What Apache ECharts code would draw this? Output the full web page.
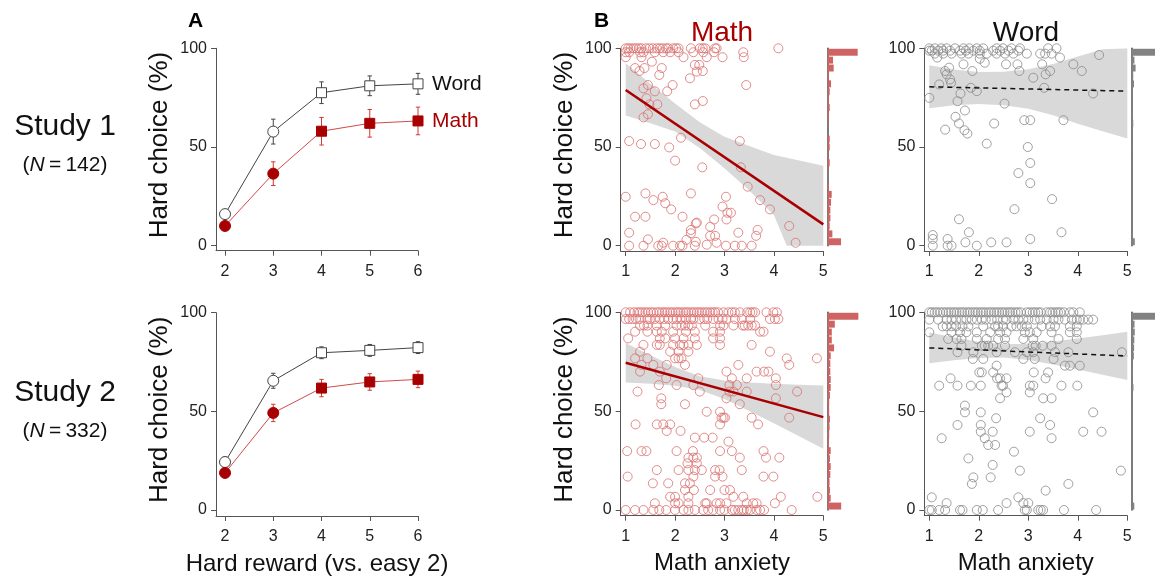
<!DOCTYPE html>
<html><head><meta charset="utf-8">
<script src="https://cdn.jsdelivr.net/npm/echarts@6/dist/echarts.min.js"></script>
<style>html,body{margin:0;padding:0;background:#fff}#c{width:1155px;height:578px}</style>
</head><body><div id="c"></div>
<script>
// ---------- Panel A data ----------
const rewards = [2, 3, 4, 5, 6];
const rewardShapes = ['circle', 'circle', 'rect', 'rect', 'rect'];
const s1Word = [16, 57.8, 77.5, 81, 82];
const s1WordErr = [1.5, 6.3, 5.5, 5, 5.3];
const s1Math = [10, 36.5, 58, 62, 63.2];
const s1MathErr = [1.5, 6, 7, 7, 7];
const s2Word = [24.3, 65.5, 79.7, 80.9, 82.3];
const s2WordErr = [2.5, 3.8, 3, 3, 3];
const s2Math = [18.8, 49.2, 61.8, 64.9, 66.2];
const s2MathErr = [2, 4.4, 4.4, 4.2, 4.2];
const rewardTicks = [2, 3, 4, 5, 6];
const pctTicks = [0, 50, 100];
const anxTicks = [1, 2, 3, 4, 5];

// ---------- Panel B data (rows: [hard choice %, [math anxiety values]]) ----------
const mathS1Rows = [
 [100,[1.00,1.05,1.10,1.16,1.21,1.27,1.32,1.41,1.48,1.55,1.63,1.69,1.75,1.82,1.86,1.96,2.02,2.07,2.32,2.50,2.56,2.61,2.81,2.84,4.09]],
 [98,[1.00,1.07,1.29,1.36,1.59,1.76,1.90,2.07,2.37,2.57,2.79,3.38]],
 [95.5,[1.00,1.32,2.17,2.64,2.96,3.39]],
 [93.2,[1.53]],[90,[1.19,1.38,1.73]],[88.5,[1.28,2.56]],[86.5,[1.68]],[84.8,[2.30]],[91.6,[2.40,2.49]],[88.2,[2.44]],
 [81.4,[3.44,1.45,1.95]],[79.7,[1.36]],[78.2,[1.59,1.84]],[74.7,[1.42]],[71.6,[1.48,1.64,2.40]],[73.3,[2.56]],[65,[1.36]],[66.6,[1.45]],
 [53,[1.07,3.31]],[51.5,[1.31,1.59]],[49.8,[1.88]],[54.7,[2.12]],[43.1,[2.00]],[39.7,[2.55,3.33]],[29.9,[3.47]],[23.1,[3.72,1.56]],
 [18.4,[3.92,1.92]],[10,[4.31]],[1.5,[4.44,1.76,2.84]],[24.8,[1.00,1.75,3.03]],[26.5,[1.40,2.32]],[21.5,[1.80]],[14.7,[2.15,1.19,1.40]],
 [11.7,[2.44]],[6.6,[1.07,3.28]],[3.2,[1.45]],[19.8,[2.96]],[16.7,[3.06,3.13]],[13.3,[3.04,2.79]],[9.6,[2.71]],[8,[2.32,3.67]],[6.3,[2.32]],
 [11.3,[2.42]],[5,[2.71,2.81,3.64]],[0,[1.07,1.36,1.66,1.73,1.96,2.10,2.15,2.40,3.03,3.21,3.35,3.55]],[3,[2.23]],[2,[2.42]],[0.5,[2.64]]
];
const wordS1Rows = [
 [100,[1.00,1.11,1.24,1.35,1.52,1.69,1.81,1.96,2.09,2.36,2.49,2.66,2.83,3.40,3.57]],
 [98.8,[1.00,1.05,1.18,1.28,1.42,1.62,1.74,1.89,2.02,2.29,2.43,2.60,2.80]],
 [97.3,[1.11,1.28,1.45,1.65,1.79,2.02,2.16,2.36,2.53,2.70,2.97,3.24,3.34,3.47]],
 [95.3,[1.16,3.64]],[94.7,[2.02]],[92.7,[2.12]],[91.9,[1.69,2.55,2.78,3.91,3.28]],[88.5,[4.08,3.44,2.82,1.87,1.32]],[96.6,[4.43]],
 [86.8,[3.35,1.35]],[85.1,[3.10]],[90.2,[1.40]],[84.2,[1.42]],[82.5,[1.44]],[81.7,[1.20]],[80,[1.84,3.32]],[78.3,[1.96]],[77.1,[1.63,4.31]],
 [73.2,[1.57]],[74.9,[1.00]],[72,[2.52]],[68.5,[1.72]],[65.3,[1.53]],[61.9,[1.60,2.31]],[58.8,[1.32]],[58.5,[1.71]],[56.8,[1.77]],
 [51.7,[2.16]],[63.6,[2.92,3.04,3.71]],[50,[2.99]],[41.9,[3.04]],[31.7,[3.04]],[36.8,[2.80]],[18.5,[2.72]],[23.6,[3.48]],[13.4,[1.60]],
 [6.8,[1.80,3.67]],[5.4,[1.07]],[3.4,[1.07,1.37,3.04]],[0,[1.07,1.37,1.45,1.96]],[1.7,[1.73,2.25,2.56]]
];
const mathS2Rows = [
 [100,[1.00,1.09,1.17,1.24,1.29,1.34,1.40,1.45,1.51,1.56,1.63,1.68,1.74,1.79,1.84,1.90,1.95,2.01,2.06,2.11,2.17,2.22,2.27,2.33,2.38,2.44,2.49,2.54,2.60,2.65,2.71,2.76,2.81,2.87,2.98,3.08,3.15,3.21,3.31,3.46,3.52,3.57,3.62,3.85,3.99,4.06]],
 [96.6,[1.00,1.07,1.14,1.21,1.28,1.44,1.49,1.59,1.69,1.78,1.86,1.96,2.03,2.11,2.22,2.32,2.37,2.50,2.59,2.65,2.77,2.88,2.96,3.04,3.21,3.35,3.52,3.92,4.02,4.09]],
 [93.3,[1.29,1.37,1.44,1.63,1.80,2.03,2.13,2.20,2.27,2.34,2.61,2.91,2.98,3.18,3.37,3.41,3.48,3.55,3.62]],
 [90.2,[1.19,1.44,1.63,1.73,1.96,2.22,2.40,2.77,2.91,3.72,3.79]],
 [86.8,[1.05,1.69,1.80,2.00,2.17,2.40,2.77,2.91]],
 [83.5,[1.36,1.63,1.69,1.96,2.10,2.17,2.27,2.44,2.91,3.55]],
 [80.1,[1.29,1.90,2.07,2.27,3.92]],
 [76.7,[1.19,1.44,2.00,2.07,2.13,4.26,4.87]],
 [73.4,[1.32,1.56,1.83,2.20,3.28,4.31]],
 [70.0,[1.29,1.69,3.04,3.65,3.80,3.89]],
 [66.6,[1.82,2.47,3.15,3.45,4.04]],
 [63.2,[1.67,2.03,2.37,3.10,3.25,4.04]],
 [59.9,[1.24,2.50,3.10,3.18,3.45,4.47]],
 [56.5,[1.72,3.04,4.04]],
 [53.5,[1.72,2.20,3.31]],
 [49.7,[2.64,2.91]],
 [46.7,[2.94,2.98,3.01,3.55,4.31]],
 [43.3,[1.20,1.63,1.76,1.90,2.91,3.68]],
 [40.0,[1.83,2.11]],
 [36.6,[2.40,2.59,2.76]],
 [34.6,[3.08]],
 [29.8,[1.03,1.32,1.42,2.03,2.36,2.91,3.15,3.79]],
 [26.5,[2.27,2.37,2.44,3.31,3.84,4.11]],
 [23.6,[2.25,2.44]],
 [20.2,[1.63,2.07,2.27,2.40,2.54,2.81,2.90,3.35]],
 [16.9,[1.04,2.37,2.81,2.96,3.79,3.99]],
 [13.5,[1.55,1.86,2.20,2.30]],
 [10.1,[2.20,2.38,2.71,3.00,3.11]],
 [6.7,[1.90,2.00,2.27,3.18,3.38,4.14,4.88]],
 [3.4,[1.59,2.00,2.07,2.27,2.61,2.64,2.84,2.91,3.04,3.45,3.58,3.65,4.02]],
 [0,[1.00,1.19,1.36,1.56,1.68,1.82,2.00,2.17,2.27,2.40,2.57,2.67,2.77,2.91,3.00,3.15,3.21,3.28,3.35,3.39,3.45,3.52,3.65,3.72,3.80,4.36]]
];
const wordS2Rows = [
 [100,[1.00,1.05,1.11,1.16,1.22,1.28,1.34,1.39,1.44,1.50,1.55,1.61,1.66,1.71,1.77,1.82,1.88,1.93,1.98,2.04,2.09,2.14,2.20,2.25,2.31,2.36,2.41,2.47,2.52,2.58,2.63,2.68,2.74,2.79,2.85,2.97,3.03,3.09,3.14,3.20,3.25,3.37,3.44,3.49,3.55,3.60,3.65,3.72,3.84,3.91,4.04]],
 [96.3,[1.00,1.18,1.35,1.45,1.54,1.65,1.75,1.86,1.96,2.06,2.14,2.26,2.37,2.49,2.56,2.70,2.80,2.90,3.00,3.13,3.24,3.37,3.51,3.61,3.74,3.88,3.98,4.04,4.11,4.21,4.31]],
 [92.9,[1.27,1.35,1.45,1.54,1.67,1.79,2.09,2.33,2.39,2.49,2.66,2.76,2.87,2.97,3.27,3.44,3.54,3.84,3.98]],
 [89.9,[1.00,1.45,1.62,1.75,1.96,2.23,2.43,2.56,2.93,3.03,3.17,3.47,3.84,3.98]],
 [86.5,[1.38,1.55,1.65,1.96,2.16,2.39,2.53,2.90,3.10,3.61,3.98]],
 [83.1,[1.65,2.06,2.12,2.19,2.29,2.53,3.09,3.15,3.29,3.47]],
 [79.8,[1.57,1.89,2.36,2.73,2.97,3.10,3.54,3.81,4.89]],
 [76.4,[1.88,2.09,2.90,3.13,3.51]],
 [73.0,[2.36,3.74,3.84,4.04]],
 [69.6,[2.01,2.06,2.29,3.11,3.40]],
 [66.6,[1.43,2.37,2.43,2.56,3.35]],
 [62.9,[1.20,1.57,1.84,2.04,2.46,2.49,3.03,3.10,3.67,3.99]],
 [59.5,[2.56,3.03]],
 [56.5,[2.43,3.30,3.47]],
 [52.8,[1.72]],
 [49.4,[1.72,2.04,4.31]],
 [46.4,[2.35,3.24]],
 [43.0,[1.57,2.04,3.44]],
 [39.6,[2.04,2.28,3.03,4.11,4.48]],
 [36.3,[1.25,2.12,3.47]],
 [32.9,[2.19,2.33]],
 [29.5,[2.71]],
 [26.1,[1.79]],
 [22.8,[2.28]],
 [19.9,[2.83,4.87]],
 [16.5,[1.89,2.24]],
 [13.2,[1.86,3.81]],
 [9.8,[3.35]],
 [6.4,[1.05,2.80]],
 [3.5,[1.35,2.56,2.90,3.00]],
 [0,[1.00,1.05,1.20,1.32,1.62,1.67,1.96,2.08,2.39,2.93,2.97,3.20,3.25,3.30,3.72,4.37]]
];

// regression lines (value at anxiety 1 and 5)
const regX = [1, 5];
const regMathS1 = [78.9, 10.8];
const regWordS1 = [80.5, 78.3];
const regMathS2 = [74.5, 47.0];
const regWordS2 = [82.0, 77.9];

// confidence bands
const bandX = [1, 1.5, 2, 2.5, 3, 3.5, 4, 4.5, 5];
const bandX1M = [1, 1.5, 2, 2.5, 3, 3.5, 4, 4.26, 5];
const bandMathS1Up = [92.4, 82, 72.1, 62.5, 55.2, 50.5, 46, 44.5, 40.5];
const bandMathS1Lo = [65.9, 62, 57.8, 49.5, 39.2, 28, 15.5, 0, 0];
const bandWordS1Up = [91.4, 89.2, 88.0, 88.1, 89.4, 92.1, 95.8, 99.5, 100];
const bandWordS1Lo = [69.6, 71.2, 71.8, 71.1, 69.4, 66.1, 61.8, 58.0, 54.3];
const bandMathS2Up = [84.5, 78.3, 72.3, 67.7, 65.5, 64.5, 63.9, 63.4, 63.0];
const bandMathS2Lo = [64.5, 63.9, 62.9, 60.7, 56.1, 50.1, 43.9, 37.4, 31.0];
const bandWordS2Up = [89.8, 87.3, 85.1, 83.9, 84.1, 85.2, 86.7, 88.4, 90.1];
const bandWordS2Lo = [74.2, 75.7, 76.9, 77.1, 75.9, 73.6, 71.1, 68.4, 65.7];

// marginal histograms: counts in 4% bins from 0-4 up to 96-100
const histBins = ['0','4','8','12','16','20','24','28','32','36','40','44','48','52','56','60','64','68','72','76','80','84','88','92','96'];
const histMathS1 = [20,7,3,4,4,5,6,2,0,1,3,1,3,3,0,1,2,3,2,3,5,2,9,8,45];
const histWordS1 = [8,3,0,1,1,1,1,1,1,1,2,0,2,1,2,4,3,2,2,3,6,4,10,7,76];
const histMathS2 = [36,8,6,5,7,8,6,8,3,4,5,6,4,4,6,8,8,7,7,8,17,11,11,19,82];
const histWordS2 = [12,2,1,2,2,1,1,2,2,3,4,3,5,2,3,8,5,6,5,10,11,12,14,13,140];

// ---------- styling ----------
const FONT = '"Liberation Sans", Arial, Helvetica, sans-serif';
const AX = '#555';
const DARKRED = '#a80000';
const LIGHTRED = '#d9706f';
const HISTRED = '#cf6262';
const BAND = '#d9d9d9';

const chart = echarts.init(document.getElementById('c'), null, {renderer: 'canvas'});

function rowsToPts(rows) {
  const out = [];
  rows.forEach(([y, xs]) => xs.forEach(x => out.push([x, y])));
  return out;
}

const grids = [
  {left: 216, top: 48.3, width: 202, height: 202.4},    // 0 A study1
  {left: 216, top: 312.7, width: 202, height: 203.3},   // 1 A study2
  {left: 620.7, top: 48.3, width: 202.6, height: 202.7},// 2 B1 math
  {left: 924.3, top: 48.3, width: 203, height: 202.7},  // 3 B1 word
  {left: 620.7, top: 312.3, width: 202.6, height: 203.4},// 4 B2 math
  {left: 924.3, top: 312.3, width: 203, height: 203.4}, // 5 B2 word
  {left: 827.7, top: 48.3, width: 40, height: 197.4},   // 6 hist
  {left: 1131.7, top: 48.3, width: 40, height: 197.4},  // 7
  {left: 827.7, top: 312.3, width: 40, height: 197.7},  // 8
  {left: 1131.7, top: 312.3, width: 40, height: 197.7}  // 9
];

function xVal(gi, min, max, ticks, name) {
  return {
    type: 'value', gridIndex: gi, min: min, max: max,
    axisLine: {show: true, onZero: false, lineStyle: {color: AX, width: 1}},
    axisTick: {show: true, length: 5, customValues: ticks, lineStyle: {color: AX, width: 1}},
    axisLabel: {customValues: ticks, margin: 13, fontSize: 16, color: '#222', fontFamily: FONT},
    splitLine: {show: false},
    name: name || '', nameLocation: 'middle', nameGap: 36,
    nameTextStyle: {fontSize: 24, color: '#111', fontFamily: FONT}
  };
}
function yVal(gi, min, name) {
  return {
    type: 'value', gridIndex: gi, min: min, max: 100,
    axisLine: {show: true, onZero: false, lineStyle: {color: AX, width: 1}},
    axisTick: {show: true, length: 5, customValues: pctTicks, lineStyle: {color: AX, width: 1}},
    axisLabel: {customValues: pctTicks, margin: 9, fontSize: 16, color: '#222', fontFamily: FONT},
    splitLine: {show: false},
    name: name || '', nameLocation: 'middle', nameGap: 43,
    nameTextStyle: {fontSize: 26, color: '#111', fontFamily: FONT, padding: [0, 0, 0, 9]}
  };
}
function xHist(gi, max) {
  return {type: 'value', gridIndex: gi, min: 0, max: max, show: false};
}
function yHist(gi) {
  return {type: 'category', gridIndex: gi, data: histBins,
    axisLine: {show: true, lineStyle: {color: '#5a5a5a', width: 1.6}},
    axisTick: {show: false}, axisLabel: {show: false}, splitLine: {show: false}};
}

const xAxes = [
  xVal(0, 1.813, 6, rewardTicks, ''),
  xVal(1, 1.813, 6, rewardTicks, 'Hard reward (vs. easy 2)'),
  xVal(2, 0.899, 5, anxTicks, ''),
  xVal(3, 0.899, 5, anxTicks, ''),
  xVal(4, 0.899, 5, anxTicks, 'Math anxiety'),
  xVal(5, 0.899, 5, anxTicks, 'Math anxiety'),
  xHist(6, 60), xHist(7, 60), xHist(8, 107), xHist(9, 107)
];
const yAxes = [
  yVal(0, -2.53, 'Hard choice (%)'),
  yVal(1, -3.04, 'Hard choice (%)'),
  yVal(2, -2.68, 'Hard choice (%)'),
  yVal(3, -2.68, ''),
  yVal(4, -2.88, 'Hard choice (%)'),
  yVal(5, -2.88, ''),
  yHist(6), yHist(7), yHist(8), yHist(9)
];

function errSeries(ai, vals, errs, color) {
  return {
    type: 'custom', xAxisIndex: ai, yAxisIndex: ai, z: 2, silent: true,
    data: rewards.map((x, i) => [x, vals[i] - errs[i], vals[i] + errs[i]]),
    encode: {x: 0, y: [1, 2]},
    renderItem: function (params, api) {
      const x = api.value(0);
      const lo = api.coord([x, api.value(1)]);
      const hi = api.coord([x, api.value(2)]);
      const c = 2.2;
      const st = {stroke: color, lineWidth: 1};
      return {type: 'group', children: [
        {type: 'line', shape: {x1: lo[0], y1: lo[1], x2: hi[0], y2: hi[1]}, style: st},
        {type: 'line', shape: {x1: hi[0] - c, y1: hi[1], x2: hi[0] + c, y2: hi[1]}, style: st},
        {type: 'line', shape: {x1: lo[0] - c, y1: lo[1], x2: lo[0] + c, y2: lo[1]}, style: st}
      ]};
    }
  };
}
function rewardLine(ai, name, vals, lineColor, fill, border, label) {
  return {
    type: 'line', name: name, xAxisIndex: ai, yAxisIndex: ai, z: 3,
    data: rewards.map((x, i) => ({value: [x, vals[i]], symbol: rewardShapes[i],
      symbolSize: rewardShapes[i] === 'circle' ? 11 : 10})),
    lineStyle: {color: lineColor, width: 1},
    itemStyle: {color: fill, borderColor: border, borderWidth: 1},
    endLabel: label ? {show: true, formatter: name, distance: 14, fontSize: 21, color: label, fontFamily: FONT} : {show: false}
  };
}
function bandSeries(ai, bx, lo, up) {
  return {
    type: 'custom', xAxisIndex: ai, yAxisIndex: ai, z: 1, silent: true, clip: true,
    data: bx.map((x, i) => [x, lo[i], up[i]]),
    encode: {x: 0, y: [1, 2]},
    renderItem: function (params, api) {
      if (params.dataIndex !== 0) return;
      const pts = [];
      for (let i = 0; i < bx.length; i++) pts.push(api.coord([bx[i], up[i]]));
      for (let i = bx.length - 1; i >= 0; i--) pts.push(api.coord([bx[i], lo[i]]));
      return {type: 'polygon', shape: {points: pts}, style: {fill: BAND}};
    }
  };
}
function scatterSeries(ai, rows, color) {
  return {
    type: 'scatter', xAxisIndex: ai, yAxisIndex: ai, z: 2, clip: false, silent: true,
    data: rowsToPts(rows), symbol: 'circle', symbolSize: 9,
    itemStyle: {color: 'rgba(255,255,255,0)', borderColor: color, borderWidth: 1}
  };
}
function regSeries(ai, vals, color, width, type) {
  return {
    type: 'line', xAxisIndex: ai, yAxisIndex: ai, z: 4, silent: true,
    data: regX.map((x, i) => [x, vals[i]]), symbol: 'none',
    lineStyle: {color: color, width: width, type: type}
  };
}
function histSeries(ai, counts, color) {
  return {
    type: 'bar', xAxisIndex: ai, yAxisIndex: ai, data: counts, silent: true,
    barCategoryGap: '12%', itemStyle: {color: color}
  };
}

const series = [
  errSeries(0, s1Word, s1WordErr, '#444'),
  errSeries(0, s1Math, s1MathErr, '#cc3a3a'),
  rewardLine(0, 'Word', s1Word, '#444', '#fff', '#444', '#111'),
  rewardLine(0, 'Math', s1Math, '#d24a4a', DARKRED, DARKRED, DARKRED),
  errSeries(1, s2Word, s2WordErr, '#444'),
  errSeries(1, s2Math, s2MathErr, '#cc3a3a'),
  rewardLine(1, 'Word', s2Word, '#444', '#fff', '#444', null),
  rewardLine(1, 'Math', s2Math, '#d24a4a', DARKRED, DARKRED, null),

  bandSeries(2, bandX1M, bandMathS1Lo, bandMathS1Up),
  scatterSeries(2, mathS1Rows, LIGHTRED),
  regSeries(2, regMathS1, DARKRED, 2.5, 'solid'),
  bandSeries(3, bandX, bandWordS1Lo, bandWordS1Up),
  scatterSeries(3, wordS1Rows, '#8a8a8a'),
  regSeries(3, regWordS1, '#111', 1.5, [5, 4]),
  bandSeries(4, bandX, bandMathS2Lo, bandMathS2Up),
  scatterSeries(4, mathS2Rows, LIGHTRED),
  regSeries(4, regMathS2, DARKRED, 2.5, 'solid'),
  bandSeries(5, bandX, bandWordS2Lo, bandWordS2Up),
  scatterSeries(5, wordS2Rows, '#8a8a8a'),
  regSeries(5, regWordS2, '#111', 1.5, [5, 4]),

  histSeries(6, histMathS1, HISTRED),
  histSeries(7, histWordS1, '#828282'),
  histSeries(8, histMathS2, HISTRED),
  histSeries(9, histWordS2, '#828282')
];

function txt(x, y, text, size, color, extra) {
  return Object.assign({type: 'text', x: x, y: y, silent: true,
    style: {text: text, fontSize: size, fontFamily: FONT, fill: color, align: 'center', verticalAlign: 'middle'}}, extra || {});
}
function nLabel(x, y, n) {
  return {type: 'text', x: x, y: y, silent: true,
    style: {text: '{p|(}{i|N}{p|\u2009=\u2009' + n + ')}', align: 'center', verticalAlign: 'middle',
      rich: {p: {fontSize: 21, fontFamily: FONT, fill: '#111'}, i: {fontSize: 21, fontFamily: FONT, fontStyle: 'italic', fill: '#111'}}}};
}

const graphics = [
  {type: 'text', x: 188, y: 21, silent: true, style: {text: 'A', fontSize: 21, fontWeight: 'bold', fontFamily: FONT, fill: '#000', verticalAlign: 'middle'}},
  {type: 'text', x: 594, y: 21, silent: true, style: {text: 'B', fontSize: 21, fontWeight: 'bold', fontFamily: FONT, fill: '#000', verticalAlign: 'middle'}},
  txt(722, 33, 'Math', 28, DARKRED),
  txt(1026, 33, 'Word', 28, '#111'),
  txt(65, 127, 'Study 1', 30, '#111'),
  nLabel(65, 165, 142),
  txt(65, 393, 'Study 2', 30, '#111'),
  nLabel(65, 431, 332)
];

chart.setOption({
  animation: false,
  backgroundColor: '#fff',
  textStyle: {fontFamily: FONT},
  grid: grids,
  xAxis: xAxes,
  yAxis: yAxes,
  series: series,
  graphic: graphics
});
</script>
</body></html>
